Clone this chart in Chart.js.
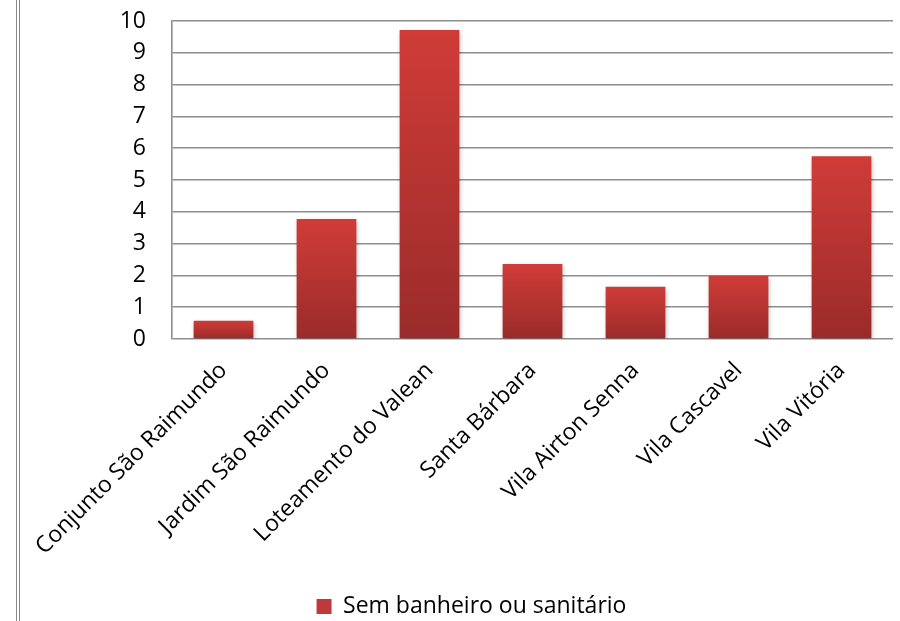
<!DOCTYPE html>
<html>
<head>
<meta charset="utf-8">
<script src="https://cdn.jsdelivr.net/npm/chart.js@4"></script>
<style>
  html, body { margin: 0; padding: 0; background: #fff; }
  #wrap { position: relative; width: 900px; height: 621px; }
  #edge { position: absolute; left: 16px; top: 0; width: 0; height: 621px; border-left: 4px double #8a8a8a; }
</style>
</head>
<body>
<div id="wrap">
  <div id="edge"></div>
  <canvas id="myChart" width="900" height="621"></canvas>
</div>
<script>
'use strict';
//globals
let categories = ['Conjunto São Raimundo', 'Jardim São Raimundo', 'Loteamento do Valean', 'Santa Bárbara', 'Vila Airton Senna', 'Vila Cascavel', 'Vila Vitória'];
let values = [0.57, 3.77, 9.72, 2.36, 1.64, 1.99, 5.75];
let seriesName = 'Sem banheiro ou sanitário';
let yTicks = [0, 1, 2, 3, 4, 5, 6, 7, 8, 9, 10];

const FONT = '"Open Sans", Lato, sans-serif';

//gradient for each bar, lighter on top
function barFill(context){
  let chart = context.chart;
  let area = chart.chartArea;
  if(!area || context.dataIndex === undefined || context.type !== 'data'){
    return '#c0393a';
  }
  let y = chart.scales.y;
  let top = y.getPixelForValue(values[context.dataIndex]);
  let bottom = y.getPixelForValue(0);
  if(!isFinite(top) || top === bottom){ return '#c0393a'; }
  let g = chart.ctx.createLinearGradient(0, top, 0, bottom);
  g.addColorStop(0, '#d03c38');
  g.addColorStop(1, '#9a2b2a');
  return g;
}

//soft shadow under bars
const barShadow = {
  id: 'barShadow',
  beforeDatasetsDraw(chart){
    let ctx = chart.ctx;
    ctx.save();
    ctx.shadowColor = 'rgba(0,0,0,0.35)';
    ctx.shadowBlur = 5;
    ctx.shadowOffsetX = 1;
    ctx.shadowOffsetY = 2;
  },
  afterDatasetsDraw(chart){
    chart.ctx.restore();
  }
};

//push the legend a bit lower, like the original
const legendDown = {
  id: 'legendDown',
  afterLayout(chart){
    if(chart.legend){
      chart.legend.top += 7;
      chart.legend.bottom += 7;
    }
  }
};

const ctx = document.getElementById('myChart');

new Chart(ctx, {
  type: 'bar',
  data: {
    labels: categories,
    datasets: [{
      label: seriesName,
      data: values,
      backgroundColor: barFill,
      borderWidth: 0,
      barPercentage: 0.58,
      categoryPercentage: 1
    }]
  },
  options: {
    responsive: false,
    animation: false,
    layout: {
      padding: { left: 50, right: 7, top: 21, bottom: 0 }
    },
    plugins: {
      tooltip: { enabled: false },
      legend: {
        position: 'bottom',
        labels: {
          color: '#000',
          font: { family: FONT, size: 23 },
          boxWidth: 15,
          boxHeight: 15,
          padding: 2,
          generateLabels(chart){
            return [{
              text: seriesName,
              fillStyle: '#c0393a',
              strokeStyle: '#c0393a',
              lineWidth: 0,
              datasetIndex: 0
            }];
          }
        }
      }
    },
    scales: {
      x: {
        grid: { display: false, drawTicks: false },
        border: { display: false },
        ticks: {
          color: '#000',
          font: { family: FONT, size: 23 },
          maxRotation: 45,
          minRotation: 45,
          padding: 18,
          autoSkip: false
        },
        afterFit(scale){
          scale.height = 247;
          scale.paddingTop = 0;
          scale.paddingBottom = 0;
        }
      },
      y: {
        min: 0,
        max: 10,
        afterBuildTicks(scale){ scale.ticks = yTicks.map(v => ({ value: v })); },
        grid: { color: '#8e8e8e', lineWidth: 1.6, drawTicks: false },
        border: { display: true, color: '#8e8e8e', width: 1.6 },
        ticks: {
          color: '#000',
          font: { family: FONT, size: 23 },
          padding: 26
        },
        afterFit(scale){
          scale.width = 122;
          scale.paddingTop = 0;
          scale.paddingBottom = 0;
        }
      }
    }
  },
  plugins: [barShadow, legendDown]
});
</script>
</body>
</html>
